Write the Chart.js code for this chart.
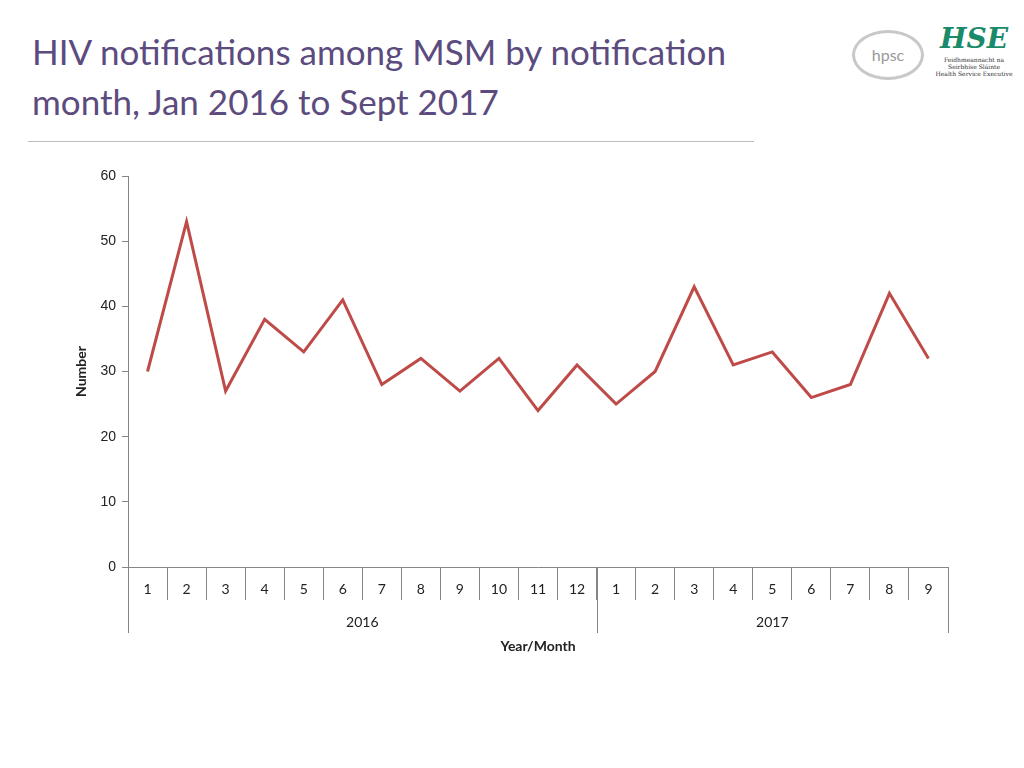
<!DOCTYPE html>
<html>
<head>
<meta charset="utf-8">
<script src="https://cdn.jsdelivr.net/npm/chart.js@4"></script>
<style>
  body { margin:0; width:1024px; height:768px; background:#fff; font-family:Lato, "Open Sans", sans-serif; position:relative; overflow:hidden; }
  #title { position:absolute; left:32px; top:26px; font-size:35px; line-height:50px; color:#5b4b7e; }
  #rule { position:absolute; left:28px; top:141px; width:726px; height:1px; background:#bdbdbd; }
  #hpsc { position:absolute; left:852px; top:30px; width:66px; height:44px; border:3px solid #c8c8c8; border-radius:50%; color:#999; font-size:16px; text-align:center; line-height:44px; }
  #hse { position:absolute; left:934px; top:22px; width:80px; text-align:center; font-family:"DejaVu Serif", serif; font-size:6px; color:#333; }
  #hse b { display:block; font-size:28px; color:#1a8a6a; font-style:italic; line-height:34px; }
  #wrap { position:absolute; left:0; top:150px; width:1024px; height:520px; }
</style>
</head>
<body>
<div id="title">HIV notifications among MSM by notification<br>month, Jan 2016 to Sept 2017</div>
<div id="rule"></div>
<div id="hpsc">hpsc</div>
<div id="hse"><b>HSE</b>Feidhmeannacht na Seirbhíse Sláinte<br>Health Service Executive</div>
<div id="wrap"><canvas id="chart"></canvas></div>
<script>
'use strict';

// ─── Data ────────────────────────────────────────────────────────────────────
const months = ['1','2','3','4','5','6','7','8','9','10','11','12','1','2','3','4','5','6','7','8','9'];
const years = ['2016', '2017'];
const monthsPerYear = [12, 9];
const notifications = [30, 53, 27, 38, 33, 41, 28, 32, 27, 32, 24, 31, 25, 30, 43, 31, 33, 26, 28, 42, 32];

const axisColor = '#868686';
const font = '14px Lato, "Open Sans", sans-serif';
const boldFont = 'bold 14px Lato, "Open Sans", sans-serif';

// ─── Two-level category labels + axis titles ─────────────────────────────────
const groupLabels = {
  id: 'groupLabels',
  afterDraw(chart) {
    const ctx = chart.ctx;
    const x = chart.scales.x;
    const area = chart.chartArea;
    const base = area.bottom;
    const step = x.getPixelForValue(1) - x.getPixelForValue(0);
    ctx.save();
    ctx.fillStyle = '#222';
    ctx.font = font;
    ctx.textAlign = 'center';
    ctx.textBaseline = 'middle';
    months.forEach((m, i) => ctx.fillText(m, x.getPixelForValue(i), base + 22));
    ctx.strokeStyle = axisColor;
    ctx.lineWidth = 1;
    let start = 0;
    const edges = [x.getPixelForValue(0) - step / 2];
    years.forEach((y, k) => {
      const end = start + monthsPerYear[k] - 1;
      const left = x.getPixelForValue(start) - step / 2;
      const right = x.getPixelForValue(end) + step / 2;
      ctx.fillText(y, (left + right) / 2, base + 55);
      edges.push(right);
      start = end + 1;
    });
    edges.forEach(px => {
      ctx.beginPath();
      ctx.moveTo(Math.round(px) + 0.5, base);
      ctx.lineTo(Math.round(px) + 0.5, base + 66);
      ctx.stroke();
    });
    ctx.font = boldFont;
    ctx.fillText('Year/Month', (area.left + area.right) / 2, base + 79);
    ctx.translate(81, (area.top + area.bottom) / 2);
    ctx.rotate(-Math.PI / 2);
    ctx.fillText('Number', 0, 0);
    ctx.restore();
  }
};

new Chart(document.getElementById('chart'), {
  type: 'line',
  data: {
    labels: months,
    datasets: [{
      data: notifications,
      borderColor: '#be4b48',
      borderWidth: 3,
      pointRadius: 0,
      tension: 0,
    }]
  },
  options: {
    responsive: true,
    maintainAspectRatio: false,
    animation: false,
    layout: { padding: { top: 26, right: 76, bottom: 0, left: 0 } },
    plugins: { legend: { display: false }, tooltip: { enabled: false } },
    scales: {
      x: {
        offset: true,
        grid: { offset: true, drawOnChartArea: false, tickLength: 33, color: axisColor },
        border: { color: axisColor },
        ticks: { color: 'rgba(0,0,0,0)' },
        afterFit(scale) { scale.height = 103; }
      },
      y: {
        min: 0, max: 60,
        ticks: { stepSize: 10, color: '#222', font: { size: 14 }, padding: 6 },
        grid: { drawOnChartArea: false, tickLength: 6, color: axisColor },
        border: { color: axisColor },
        afterFit(scale) { scale.width = 128; }
      }
    }
  },
  plugins: [groupLabels]
});
</script>
</body>
</html>
